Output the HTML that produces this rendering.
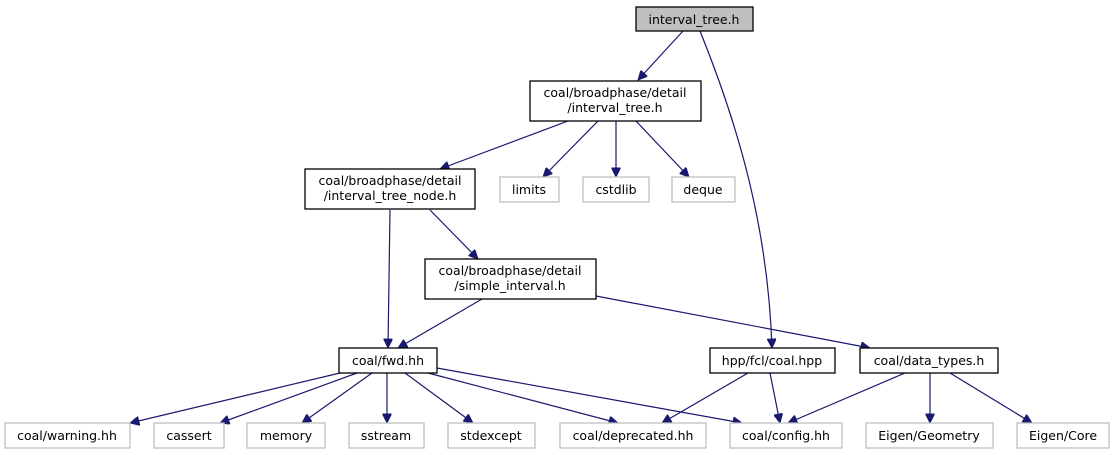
<!DOCTYPE html>
<html><head><meta charset="utf-8"><style>
html,body{margin:0;padding:0;background:#fff;}
svg{display:block;}
text{font-family:"DejaVu Sans","Liberation Sans",sans-serif;font-size:12.5px;fill:#000;text-anchor:middle;}
.n{fill:#fff;stroke:#000;stroke-width:1.3;}
.g{fill:#fff;stroke:#bfbfbf;stroke-width:1.3;}
.e{fill:none;stroke:#191970;stroke-width:1.2;}
</style></head><body>
<svg width="1115" height="455" viewBox="0 0 1115 455">
<defs><marker id="a" viewBox="0 0 10 10" refX="10" refY="5" markerWidth="11" markerHeight="9" markerUnits="userSpaceOnUse" orient="auto"><path d="M0,0 L10,5 L0,10 z" fill="#191970" stroke="#191970"/></marker></defs>
<!-- edges -->
<g class="e" marker-end="url(#a)">
<path d="M683,31 L638,80" marker-end="url(#a)"/>
<path d="M700,31 C740,130 768,230 772,348" marker-end="url(#a)"/>
<path d="M568,121 L440,169" marker-end="url(#a)"/>
<path d="M598,121 L543,177" marker-end="url(#a)"/>
<path d="M616,121 L616,177" marker-end="url(#a)"/>
<path d="M636,121 L689,177" marker-end="url(#a)"/>
<path d="M390,210 L388,348" marker-end="url(#a)"/>
<path d="M430,210 L478,259" marker-end="url(#a)"/>
<path d="M482,299 L398,348" marker-end="url(#a)"/>
<path d="M596,296 L870,348" marker-end="url(#a)"/>
<path d="M340,373 L130,423" marker-end="url(#a)"/>
<path d="M357,373 L220,423" marker-end="url(#a)"/>
<path d="M372,373 L302,423" marker-end="url(#a)"/>
<path d="M387,373 L387,423" marker-end="url(#a)"/>
<path d="M405,373 L473,423" marker-end="url(#a)"/>
<path d="M428,373 L618,423" marker-end="url(#a)"/>
<path d="M437,368 L742,423" marker-end="url(#a)"/>
<path d="M748,373 L662,423" marker-end="url(#a)"/>
<path d="M770,373 L780,423" marker-end="url(#a)"/>
<path d="M905,373 L788,423" marker-end="url(#a)"/>
<path d="M930,373 L930,423" marker-end="url(#a)"/>
<path d="M950,373 L1032,423" marker-end="url(#a)"/>
</g>
<!-- nodes -->
<rect x="636" y="7" width="117" height="24" fill="#bfbfbf" stroke="#000" stroke-width="1.3"/>
<text x="694" y="24">interval_tree.h</text>
<rect class="n" x="530" y="81" width="171" height="40"/>
<text x="615" y="97">coal/broadphase/detail</text><text x="615" y="112">/interval_tree.h</text>
<rect class="n" x="305" y="169" width="170" height="40"/>
<text x="390" y="185">coal/broadphase/detail</text><text x="390" y="200">/interval_tree_node.h</text>
<rect class="g" x="500" y="177" width="59" height="25"/><text x="529" y="194">limits</text>
<rect class="g" x="583" y="177" width="66" height="25"/><text x="616" y="194">cstdlib</text>
<rect class="g" x="672" y="177" width="63" height="25"/><text x="703" y="194">deque</text>
<rect class="n" x="425" y="259" width="171" height="40"/>
<text x="510" y="275">coal/broadphase/detail</text><text x="510" y="290">/simple_interval.h</text>
<rect class="n" x="339" y="348" width="98" height="25"/><text x="388" y="365">coal/fwd.hh</text>
<rect class="n" x="710" y="348" width="125" height="25"/><text x="772" y="365">hpp/fcl/coal.hpp</text>
<rect class="n" x="860" y="348" width="138" height="25"/><text x="929" y="365">coal/data_types.h</text>
<rect class="g" x="5" y="423" width="125" height="25"/><text x="67" y="440">coal/warning.hh</text>
<rect class="g" x="154" y="423" width="70" height="25"/><text x="189" y="440">cassert</text>
<rect class="g" x="247" y="423" width="78" height="25"/><text x="286" y="440">memory</text>
<rect class="g" x="349" y="423" width="75" height="25"/><text x="386" y="440">sstream</text>
<rect class="g" x="448" y="423" width="87" height="25"/><text x="491" y="440">stdexcept</text>
<rect class="g" x="560" y="423" width="146" height="25"/><text x="633" y="440">coal/deprecated.hh</text>
<rect class="g" x="730" y="423" width="112" height="25"/><text x="786" y="440">coal/config.hh</text>
<rect class="g" x="866" y="423" width="127" height="25"/><text x="929" y="440">Eigen/Geometry</text>
<rect class="g" x="1017" y="423" width="92" height="25"/><text x="1063" y="440">Eigen/Core</text>
</svg>
</body></html>
